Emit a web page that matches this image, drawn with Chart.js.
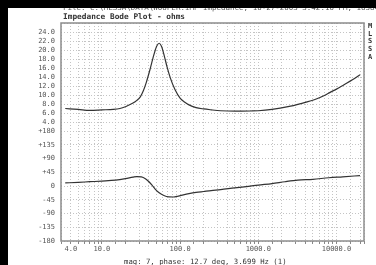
<!DOCTYPE html>
<html>
<head>
<meta charset="utf-8">
<script src="https://cdn.jsdelivr.net/npm/chart.js@4.4.1/dist/chart.umd.min.js"></script>
<style>
  html, body { margin: 0; padding: 0; background: #fff; }
  #wrap { position: relative; width: 376px; height: 265px; overflow: hidden; background: #fff; }
  #chart { position: absolute; left: 0; top: 0; }
  .txt { position: absolute; font-family: 'DejaVu Sans Mono', monospace; color: #333; white-space: nowrap; }
  .band { position: absolute; background: #000; z-index: 5; }
</style>
</head>
<body>
<div id="wrap">
  <canvas id="chart" width="376" height="265"></canvas>
  <div class="txt" style="left:63px; top:4px; font-size:7.5px; line-height:8px; color:#555;">File: C:\MLSSA\DATA\WOOFER.IMP  Impedance, 10-27-2003  3:42:10 PM, 16384 pts, Avg 4</div>
  <div class="band" style="left:0; top:0; width:376px; height:8px;"></div>
  <div class="band" style="left:0; top:0; width:8px; height:265px;"></div>
  <div class="txt" style="left:63px; top:12px; font-size:7.8px; line-height:10px; font-weight:bold;">Impedance Bode Plot - ohms</div>
  <div class="txt" style="left:368px; top:23px; font-size:7px; line-height:7.7px; font-weight:bold;">M<br>L<br>S<br>S<br>A</div>
  <div class="txt" style="left:124px; top:257px; font-size:7.3px; line-height:9px;">mag: 7, phase: 12.7 deg, 3.699 Hz (1)</div>
</div>
<script>
// impedance magnitude curve
const freqHz = [3.4, 5, 7, 10, 14, 17, 20, 25, 28, 31, 34, 37, 41, 45, 50, 54, 58, 63, 68, 75, 86, 100, 115, 130, 160, 200, 250, 330, 500, 800, 1000, 1500, 2400, 3500, 5300, 7000, 8500, 10000, 12500, 16000, 20000];
const impedanceOhm = [7.0, 6.8, 6.6, 6.7, 6.8, 7.0, 7.4, 8.2, 8.8, 9.6, 11.0, 12.8, 15.5, 18.2, 20.8, 21.5, 20.8, 18.6, 16.3, 13.8, 11.2, 9.3, 8.4, 7.8, 7.2, 6.9, 6.7, 6.5, 6.4, 6.45, 6.5, 6.8, 7.4, 8.1, 9.0, 9.9, 10.7, 11.3, 12.3, 13.4, 14.5];

// phase curve
const phaseHz = [3.4, 5, 7, 10, 15, 20, 25, 28, 32, 36, 40, 44, 48, 54, 62, 72, 82, 95, 110, 130, 160, 200, 250, 330, 500, 750, 1000, 1500, 2200, 3200, 5000, 8000, 12000, 20000];
const phaseDeg = [10, 12, 14, 16, 19, 24, 29, 31, 30, 24, 14, 2, -10, -22, -31, -35.5, -36, -33, -29, -25, -21, -18, -15, -12, -6, -1, 3, 8, 14, 19, 22, 27, 30, 34];

const xLabelHz = [4, 10, 100, 1000, 10000];

const tickFont = { family: 'DejaVu Sans Mono', size: 7 };
const tickColor = '#555';
const gridColor = '#c4c4c4';

const frame = {
  id: 'frame',
  afterDraw(chart) {
    const { ctx, chartArea: a } = chart;
    ctx.save();
    ctx.strokeStyle = '#8c8c8c';
    ctx.lineWidth = 1.5;
    ctx.strokeRect(a.left, a.top, a.right - a.left, a.bottom - a.top);
    ctx.restore();
  }
};

new Chart(document.getElementById('chart'), {
  type: 'line',
  data: {
    datasets: [
      {
        label: 'Impedance',
        data: freqHz.map((f, i) => ({ x: f, y: impedanceOhm[i] })),
        yAxisID: 'yMag',
        borderColor: '#333',
        borderWidth: 1.2,
        pointRadius: 0,
        cubicInterpolationMode: 'monotone'
      },
      {
        label: 'Phase',
        data: phaseHz.map((f, i) => ({ x: f, y: phaseDeg[i] })),
        yAxisID: 'yPhase',
        borderColor: '#333',
        borderWidth: 1.2,
        pointRadius: 0,
        cubicInterpolationMode: 'monotone'
      }
    ]
  },
  options: {
    responsive: false,
    animation: false,
    layout: { padding: { top: 23, right: 12, left: 0, bottom: 0 } },
    plugins: { legend: { display: false }, tooltip: { enabled: false } },
    scales: {
      x: {
        type: 'logarithmic',
        min: 3,
        max: 22500,
        afterFit: s => { s.height = 24; },
        grid: { color: gridColor, tickColor: '#888', tickLength: 3, tickBorderDash: [] },
        border: { display: false, dash: [1, 2] },
        ticks: {
          autoSkip: false,
          maxRotation: 0,
          padding: 1,
          font: tickFont,
          color: tickColor,
          callback: v => {
            const h = xLabelHz.find(t => Math.abs(t - v) < t * 1e-6);
            return h ? h.toFixed(1) : '';
          }
        }
      },
      yMag: {
        type: 'linear',
        position: 'left',
        stack: 'bode',
        stackWeight: 108,
        weight: 1,
        min: 2,
        max: 26,
        afterFit: s => { s.width = 61; },
        grid: { color: gridColor, drawTicks: false },
        border: { display: false, dash: [1, 2] },
        ticks: {
          autoSkip: false,
          stepSize: 2,
          padding: 6,
          font: tickFont,
          color: tickColor,
          callback: v => (v >= 4 && v <= 24) ? v.toFixed(1) : ''
        }
      },
      yPhase: {
        type: 'linear',
        position: 'left',
        stack: 'bode',
        stackWeight: 110,
        weight: 0,
        min: -180,
        max: 180,
        afterFit: s => { s.width = 61; },
        grid: { color: gridColor, drawTicks: false },
        border: { display: false, dash: [1, 2] },
        ticks: {
          autoSkip: false,
          stepSize: 45,
          padding: 6,
          font: tickFont,
          color: tickColor,
          callback: v => v > 0 ? '+' + v : String(v)
        }
      }
    }
  },
  plugins: [frame]
});
</script>
</body>
</html>
